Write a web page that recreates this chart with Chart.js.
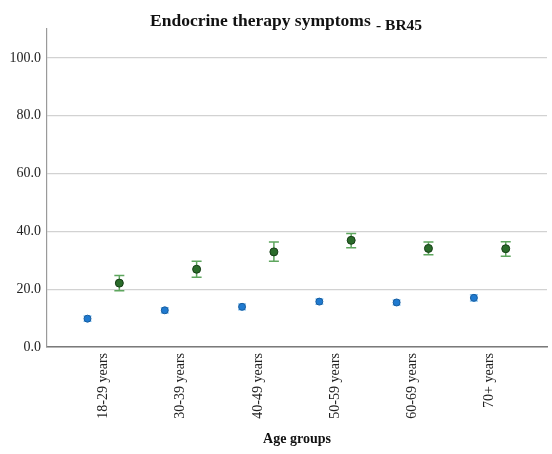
<!DOCTYPE html>
<html>
<head>
<meta charset="utf-8">
<script src="https://cdn.jsdelivr.net/npm/chart.js@4"></script>
<style>
  html, body { margin: 0; padding: 0; background: #fff; }
  #wrap { width: 552px; height: 454px; }
</style>
</head>
<body>
<div id="wrap"><canvas id="chart-symptoms"></canvas></div>
<script>
const ageGroups = ['18-29 years', '30-39 years', '40-49 years', '50-59 years', '60-69 years', '70+ years'];

// blue series (mean and CI)
const blueMean = [9.8, 12.7, 13.9, 15.7, 15.4, 17.0];
const blueLow = [8.9, 11.8, 12.9, 14.8, 14.5, 15.9];
const blueHigh = [10.7, 13.6, 14.9, 16.6, 16.3, 18.1];

// green series (mean and CI)
const greenMean = [22.1, 26.9, 32.9, 36.9, 34.1, 34.0];
const greenLow = [19.5, 24.1, 29.7, 34.3, 31.9, 31.4];
const greenHigh = [24.7, 29.7, 36.3, 39.3, 36.3, 36.4];

const yTicks = [0, 20, 40, 60, 80, 100];

const serif = '"Liberation Serif", "Times New Roman", serif';

const toPoints = (values, shift) => values.map((v, i) => ({ x: i + shift, y: v }));

const errorBars = {
    id: 'errorBars',
    beforeDatasetsDraw(chart) {
        const { ctx, scales: { x, y } } = chart;
        chart.data.datasets.forEach((ds) => {
            if (!ds.errLow) return;
            ctx.save();
            ctx.strokeStyle = ds.errColor;
            ctx.lineWidth = 1.5;
            ds.data.forEach((p, i) => {
                const px = x.getPixelForValue(p.x);
                const top = y.getPixelForValue(ds.errHigh[i]);
                const bot = y.getPixelForValue(ds.errLow[i]);
                ctx.beginPath();
                ctx.moveTo(px, top); ctx.lineTo(px, bot);
                ctx.moveTo(px - ds.capHalf, top); ctx.lineTo(px + ds.capHalf, top);
                ctx.moveTo(px - ds.capHalf, bot); ctx.lineTo(px + ds.capHalf, bot);
                ctx.stroke();
            });
            ctx.restore();
        });
    }
};

const titleText = {
    id: 'titleText',
    afterDraw(chart) {
        const ctx = chart.ctx;
        ctx.save();
        ctx.fillStyle = '#111';
        ctx.textAlign = 'left';
        ctx.textBaseline = 'alphabetic';
        ctx.font = 'bold 17.5px ' + serif;
        ctx.fillText('Endocrine therapy symptoms', 150, 26);
        ctx.font = 'bold 15.5px ' + serif;
        ctx.fillText('- BR45', 376, 30);
        ctx.restore();
    }
};

(() => {
    const ctx = document.getElementById('chart-symptoms').getContext('2d');

    new Chart(ctx, {
        type: 'scatter',
        data: {
            datasets: [{
                label: 'Blue',
                data: toPoints(blueMean, -0.206),
                errLow: blueLow,
                errHigh: blueHigh,
                errColor: '#8cc6f2',
                capHalf: 4,
                pointRadius: 3.5,
                pointBackgroundColor: '#1f7ad0',
                pointBorderColor: '#175c9e',
                pointBorderWidth: 1
            }, {
                label: 'Green',
                data: toPoints(greenMean, 0.206),
                errLow: greenLow,
                errHigh: greenHigh,
                errColor: '#5ea65e',
                capHalf: 5,
                pointRadius: 4,
                pointBackgroundColor: '#2a6b2a',
                pointBorderColor: '#163d16',
                pointBorderWidth: 1
            }]
        },
        options: {
            responsive: true,
            maintainAspectRatio: false,
            animation: false,
            layout: { padding: { top: 29, right: 4, bottom: 0, left: 0 } },
            plugins: {
                legend: { display: false },
                tooltip: { enabled: false }
            },
            scales: {
                x: {
                    type: 'linear',
                    min: -0.73,
                    max: 5.74,
                    afterBuildTicks: (scale) => {
                        scale.ticks = ageGroups.map((c, i) => ({ value: i }));
                    },
                    afterFit: (scale) => { scale.height = 107; },
                    grid: { display: true, drawOnChartArea: false, drawTicks: false },
                    border: { display: true, color: '#7a7a7a', width: 1.5 },
                    ticks: {
                        autoSkip: false,
                        minRotation: 90,
                        maxRotation: 90,
                        padding: 6,
                        color: '#222',
                        font: { family: serif, size: 14 },
                        callback: (v) => ageGroups[v]
                    },
                    title: {
                        display: true,
                        text: 'Age groups',
                        color: '#111',
                        font: { family: serif, size: 14, weight: 'bold' },
                        padding: { top: 0, bottom: 6 }
                    }
                },
                y: {
                    min: 0,
                    max: 110,
                    afterBuildTicks: (scale) => {
                        scale.ticks = yTicks.map((v) => ({ value: v }));
                    },
                    afterFit: (scale) => { scale.width = 47; },
                    grid: { color: '#d2d2d2', lineWidth: 1.2, drawTicks: false },
                    border: { display: true, color: '#9a9a9a', width: 1.2 },
                    ticks: {
                        padding: 6,
                        color: '#222',
                        font: { family: serif, size: 14 },
                        callback: (v) => v.toFixed(1)
                    }
                }
            }
        },
        plugins: [errorBars, titleText]
    });
})();
</script>
</body>
</html>
